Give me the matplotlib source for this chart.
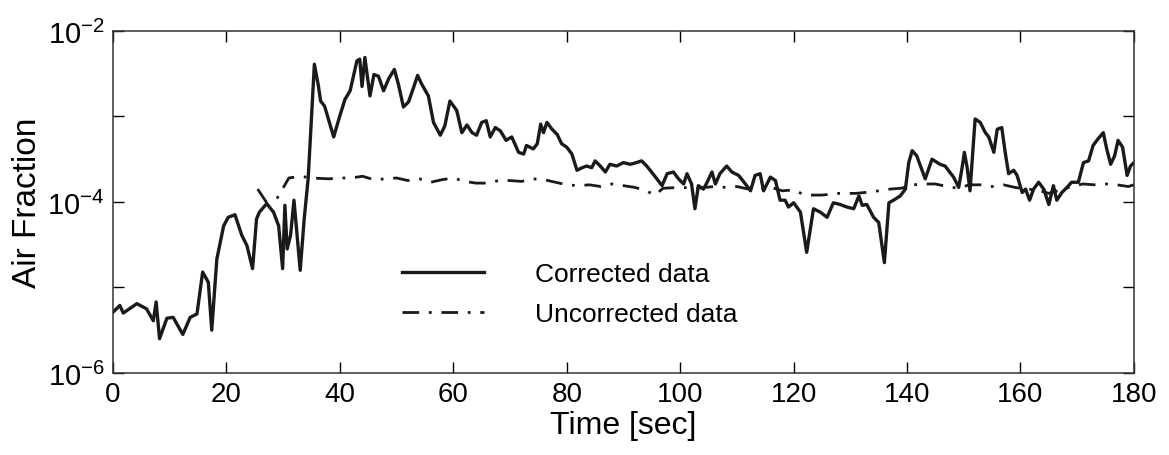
import numpy as np
import matplotlib
matplotlib.use("Agg")
import matplotlib.pyplot as plt
from matplotlib.ticker import FixedLocator, FuncFormatter

plt.rcParams['font.family'] = ['Liberation Sans', 'DejaVu Sans']
plt.rcParams['mathtext.default'] = 'regular'

# corrected data: time [sec] and log10(air fraction)
t_corr = [0, 1.2, 1.8, 4.2, 5.9, 7.1, 7.6, 8.2, 9.5, 10.6, 12.3, 13.6, 14.8, 15.8,
          16.8, 17.4, 18.3, 19.5, 20.3, 21.5, 22.7, 23.6, 24.6, 25.3, 25.8, 27.1,
          28.3, 29.2, 29.9, 30.3, 30.7, 31.3, 31.9, 33.0, 33.7, 34.4, 35.5, 36.2,
          36.6, 37.3, 38.9, 40.0, 40.9, 41.8, 43.0, 43.5, 43.9, 44.4, 45.3, 46.0,
          46.8, 47.7, 48.6, 49.6, 50.3, 51.2, 52.1, 53.0, 53.7, 54.4, 55.6, 56.5,
          57.7, 58.5, 59.4, 60.6, 61.5, 62.4, 63.3, 64.1, 65.0, 65.8, 66.5, 67.4,
          68.3, 69.3, 70.3, 71.5, 72.4, 72.9, 74.1, 74.8, 75.4, 75.9, 76.5, 77.4,
          78.3, 79.1, 80.0, 80.9, 81.8, 82.7, 83.5, 84.4, 85.0, 85.9, 86.8, 87.6,
          88.8, 90.0, 91.2, 92.3, 93.2, 94.1, 95.3, 96.8, 97.7, 98.8, 99.7, 100.6,
          101.2, 102.0, 102.6, 103.2, 104.1, 104.6, 105.6, 106.2, 107.0, 108.2,
          109.1, 110.3, 111.5, 112.4, 113.2, 114.1, 114.7, 115.9, 116.8, 117.6,
          118.5, 119.1, 120.0, 121.2, 122.3, 123.5, 124.7, 125.9, 127.0, 128.2,
          129.4, 130.6, 131.5, 132.1, 132.9, 134.1, 135.0, 136.0, 136.8, 137.6,
          138.8, 139.7, 140.3, 140.9, 141.7, 143.2, 144.4, 145.8, 146.7, 148.2,
          149.1, 149.7, 150.1, 150.6, 151.1, 152.0, 152.9, 153.8, 154.4, 155.3,
          155.9, 156.7, 157.3, 157.9, 158.8, 159.4, 160.3, 160.9, 161.6, 162.3,
          163.2, 164.1, 165.0, 165.8, 166.4, 167.3, 168.2, 169.0, 170.2, 171.1,
          172.0, 172.8, 173.7, 174.6, 175.2, 175.9, 176.6, 177.2, 178.0, 178.8,
          179.4, 180.0]
log_corr = [-5.29, -5.21, -5.30, -5.19, -5.25, -5.39, -5.17, -5.60, -5.36, -5.35,
            -5.55, -5.35, -5.31, -4.82, -4.94, -5.50, -4.67, -4.28, -4.18, -4.15,
            -4.39, -4.51, -4.78, -4.20, -4.12, -4.02, -4.12, -4.28, -4.78, -4.04,
            -4.55, -4.39, -3.98, -4.80, -4.20, -3.73, -2.39, -2.64, -2.82, -2.88,
            -3.24, -2.99, -2.80, -2.70, -2.35, -2.33, -2.65, -2.31, -2.76, -2.51,
            -2.53, -2.70, -2.56, -2.45, -2.62, -2.89, -2.83, -2.66, -2.52, -2.62,
            -2.76, -3.07, -3.22, -3.11, -2.82, -2.93, -3.19, -3.10, -3.19, -3.22,
            -3.07, -3.05, -3.24, -3.13, -3.17, -3.28, -3.24, -3.42, -3.44, -3.34,
            -3.38, -3.32, -3.09, -3.19, -3.07, -3.15, -3.21, -3.32, -3.36, -3.44,
            -3.63, -3.60, -3.58, -3.60, -3.52, -3.58, -3.65, -3.56, -3.58, -3.54,
            -3.56, -3.54, -3.52, -3.58, -3.68, -3.81, -3.67, -3.65, -3.73, -3.79,
            -3.67, -3.79, -4.08, -3.81, -3.85, -3.79, -3.65, -3.79, -3.67, -3.58,
            -3.65, -3.69, -3.79, -3.87, -3.69, -3.67, -3.87, -3.71, -3.75, -3.98,
            -3.98, -4.06, -4.01, -4.12, -4.59, -4.08, -4.12, -4.18, -4.01, -4.03,
            -4.06, -4.08, -3.93, -4.04, -4.03, -4.18, -4.24, -4.71, -4.01, -3.98,
            -3.93, -3.85, -3.54, -3.40, -3.46, -3.73, -3.50, -3.56, -3.58, -3.71,
            -3.83, -3.60, -3.42, -3.60, -3.87, -3.03, -3.07, -3.19, -3.24, -3.42,
            -3.15, -3.13, -3.42, -3.67, -3.63, -3.69, -3.89, -3.85, -3.98, -3.85,
            -3.77, -3.85, -4.03, -3.81, -3.98, -3.89, -3.83, -3.77, -3.77, -3.54,
            -3.52, -3.34, -3.26, -3.19, -3.38, -3.56, -3.46, -3.28, -3.36, -3.69,
            -3.58, -3.54]

# uncorrected data
t_unc = [25.5, 27, 29, 31, 33, 35, 38, 40, 42, 44, 46, 48, 50, 52, 54, 56, 58, 60,
         62, 64, 66, 68, 70, 72, 74, 76, 78, 80, 82, 84, 86, 88, 90, 92, 94, 95.5,
         97, 100, 103, 106, 108, 110, 112, 114, 116, 118, 120, 122, 125, 128, 131,
         134, 137, 139, 141, 143, 145, 147, 149, 151, 153, 155, 157, 159, 161, 163,
         165, 167, 169, 171, 173, 175, 177, 179, 180]
log_unc = [-3.85, -4.00, -3.95, -3.72, -3.70, -3.72, -3.73, -3.72, -3.72, -3.70,
           -3.74, -3.73, -3.72, -3.75, -3.73, -3.77, -3.74, -3.72, -3.76, -3.78,
           -3.78, -3.75, -3.75, -3.76, -3.73, -3.74, -3.77, -3.80, -3.81, -3.80,
           -3.82, -3.79, -3.81, -3.83, -3.87, -3.92, -3.84, -3.83, -3.84, -3.82,
           -3.83, -3.82, -3.85, -3.84, -3.83, -3.87, -3.86, -3.92, -3.92, -3.90,
           -3.90, -3.88, -3.85, -3.84, -3.80, -3.79, -3.79, -3.82, -3.84, -3.80,
           -3.80, -3.82, -3.80, -3.83, -3.85, -3.86, -3.90, -3.86, -3.82, -3.79,
           -3.80, -3.79, -3.80, -3.82, -3.80]

fig = plt.figure(figsize=(11.69, 4.56), dpi=100)
ax = fig.add_axes([0.0967, 0.18, 0.8733, 0.75])

ax.plot(t_corr, 10.0 ** np.array(log_corr), color='#1a1a1a', lw=2.4,
        label='Corrected data')
ax.plot(t_unc, 10.0 ** np.array(log_unc), color='#1a1a1a', lw=2.0,
        linestyle=(0, (6, 3.5, 1, 3.5)), label='Uncorrected data')

ax.set_yscale('log')
ax.set_xlim(0, 180)
ax.set_ylim(1e-6, 1e-2)
ax.set_xticks(range(0, 181, 20))
ax.yaxis.set_major_locator(FixedLocator([1e-6, 1e-5, 1e-4, 1e-3, 1e-2]))
ax.yaxis.set_minor_locator(FixedLocator([]))


def ylab(v, pos):
    e = int(round(np.log10(v)))
    if e % 2 == 0:
        return r'$10^{%d}$' % e
    return ''


ax.yaxis.set_major_formatter(FuncFormatter(ylab))
ax.tick_params(direction='in', top=True, right=True, length=8, width=1,
               labelsize=20, pad=6)
ax.tick_params(axis='y', labelsize=21)
for s in ax.spines.values():
    s.set_linewidth(1.1)
    s.set_color('#333333')

ax.set_xlabel('Time [sec]', fontsize=23, labelpad=2)
ax.set_ylabel('Air Fraction', fontsize=24, labelpad=3)

ax.legend(loc='center left', bbox_to_anchor=(0.26, 0.23), frameon=False,
          fontsize=19, handlelength=3.1, handletextpad=1.95, labelspacing=0.62)

fig.savefig('out.png', dpi=100)
